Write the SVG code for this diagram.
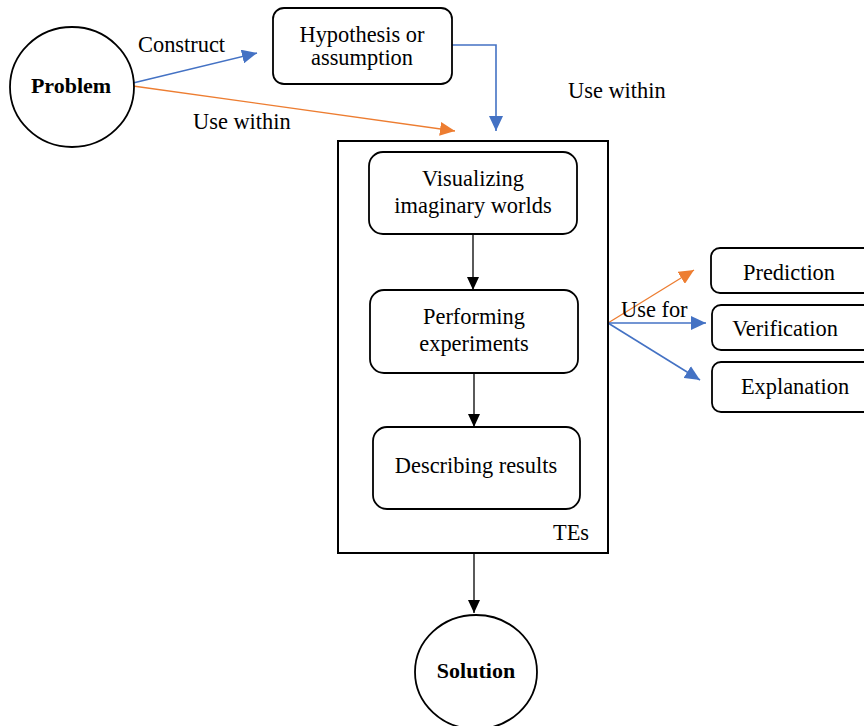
<svg xmlns="http://www.w3.org/2000/svg" width="864" height="726" viewBox="0 0 864 726">
<style>
text{font-family:"Liberation Serif","Times New Roman",serif;font-size:22.4px;fill:#000}
.b{font-weight:bold;font-size:22px}
.m{text-anchor:middle}
.box{fill:#fff;stroke:#000;stroke-width:1.8}
.k{stroke:#000;stroke-width:1.3;fill:none}
.bl{stroke:#4472C4;stroke-width:1.6;fill:none}
.or{stroke:#ED7D31;stroke-width:1.3;fill:none}
</style>
<defs>
<marker id="ak" markerUnits="userSpaceOnUse" markerWidth="14" markerHeight="12" refX="13" refY="6" orient="auto"><path d="M0,0 L13,6 L0,12 Z" fill="#000"/></marker>
<marker id="ab" markerUnits="userSpaceOnUse" markerWidth="16" markerHeight="14" refX="15" refY="7" orient="auto"><path d="M0,0 L15,7 L0,14 Z" fill="#4472C4"/></marker>
<marker id="ao" markerUnits="userSpaceOnUse" markerWidth="16" markerHeight="14" refX="15" refY="7" orient="auto"><path d="M0,0 L15,7 L0,14 Z" fill="#ED7D31"/></marker>
</defs>
<g id="connectors">
<path class="bl" d="M133,83 L257,53" marker-end="url(#ab)"/>
<path class="or" d="M133,86 L455,131" marker-end="url(#ao)"/>
<path class="bl" d="M452,45 H496 V131" marker-end="url(#ab)"/>
<path class="k" d="M473,235 V290" marker-end="url(#ak)"/>
<path class="k" d="M474,373 V427" marker-end="url(#ak)"/>
<path class="k" d="M474,553 V613" marker-end="url(#ak)"/>
<path class="or" d="M608,323 L694,270" marker-end="url(#ao)"/>
<path class="bl" d="M608,323 L706,323" marker-end="url(#ab)"/>
<path class="bl" d="M608,323 L700,380" marker-end="url(#ab)"/>
<text x="138" y="52">Construct</text>
<text x="193" y="129">Use within</text>
<text x="568" y="98">Use within</text>
<text x="621" y="317">Use for</text>
</g>
<g id="problem">
<ellipse class="box" cx="72" cy="87" rx="62" ry="60"/>
<text class="b m" x="71" y="93">Problem</text>
</g>
<g id="hypothesis">
<rect class="box" x="273" y="8" width="179" height="76" rx="11"/>
<text class="m" x="362" y="42">Hypothesis or</text>
<text class="m" x="362" y="65">assumption</text>
</g>
<g id="tes">
<rect x="338" y="141" width="270" height="412" fill="none" stroke="#000" stroke-width="2"/>
<text x="553" y="540">TEs</text>
</g>
<g id="visualizing">
<rect class="box" x="369" y="152" width="208" height="82" rx="14"/>
<text class="m" x="473" y="186">Visualizing</text>
<text class="m" x="473" y="213">imaginary worlds</text>
</g>
<g id="performing">
<rect class="box" x="370" y="290" width="208" height="83" rx="14"/>
<text class="m" x="474" y="324">Performing</text>
<text class="m" x="474" y="351">experiments</text>
</g>
<g id="describing">
<rect class="box" x="373" y="427" width="207" height="82" rx="14"/>
<text class="m" x="476" y="473">Describing results</text>
</g>
<g id="solution">
<ellipse class="box" cx="476" cy="672" rx="61" ry="57"/>
<text class="b m" x="476" y="678">Solution</text>
</g>
<g id="prediction">
<rect class="box" x="711" y="248" width="162" height="45" rx="9"/>
<text class="m" x="789" y="280">Prediction</text>
</g>
<g id="verification">
<rect class="box" x="712" y="305" width="162" height="45" rx="9"/>
<text class="m" x="785" y="336">Verification</text>
</g>
<g id="explanation">
<rect class="box" x="712" y="362" width="162" height="50" rx="9"/>
<text class="m" x="795" y="394">Explanation</text>
</g>
</svg>
